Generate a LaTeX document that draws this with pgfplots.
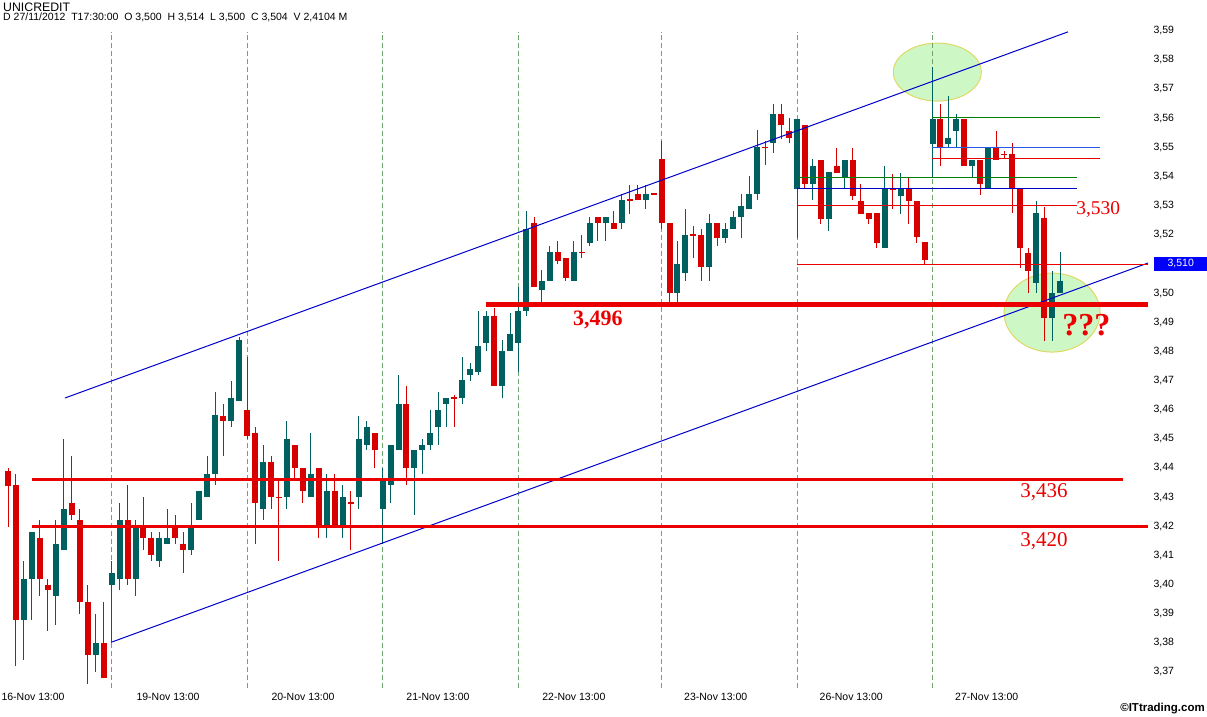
\documentclass[border=0pt]{standalone}
\usepackage{pgfplots}
\pgfplotsset{compat=1.18}
\usepackage{pgfplotstable}
\usepackage{fontspec}
\setmainfont{Liberation Sans}
\newfontfamily\tnr{Liberation Serif}
\definecolor{cteal}{RGB}{0,96,96}
\definecolor{cred}{RGB}{215,0,0}
\definecolor{lred}{RGB}{235,0,0}
\definecolor{sepgreen}{RGB}{110,165,110}
\definecolor{lvlgreen}{RGB}{0,128,0}
\definecolor{lvlblue}{RGB}{40,90,230}
\definecolor{chblue}{RGB}{0,0,205}
\definecolor{ellfill}{RGB}{205,248,198}
\definecolor{elldraw}{RGB}{225,215,100}

\pgfplotstableread{
i O H L C
2 3.388 3.408 3.374 3.402
3 3.402 3.418 3.388 3.418
6 3.396 3.422 3.386 3.414
7 3.412 3.450 3.412 3.426
11 3.376 3.390 3.370 3.380
13 3.400 3.408 3.380 3.404
14 3.402 3.428 3.398 3.422
16 3.402 3.422 3.396 3.420
19 3.408 3.418 3.406 3.416
20 3.414 3.426 3.414 3.416
23 3.412 3.428 3.410 3.420
24 3.422 3.432 3.422 3.432
25 3.430 3.444 3.430 3.438
26 3.438 3.466 3.434 3.458
28 3.456 3.470 3.454 3.464
29 3.463 3.485 3.463 3.484
32 3.426 3.448 3.422 3.442
35 3.430 3.456 3.426 3.450
38 3.430 3.452 3.430 3.438
40 3.420 3.438 3.416 3.432
42 3.420 3.434 3.416 3.430
44 3.430 3.458 3.426 3.450
45 3.448 3.456 3.446 3.454
47 3.426 3.440 3.414 3.436
48 3.434 3.448 3.428 3.448
49 3.446 3.472 3.446 3.462
51 3.440 3.446 3.424 3.446
52 3.446 3.450 3.438 3.448
53 3.448 3.460 3.446 3.452
54 3.454 3.466 3.448 3.460
55 3.462 3.464 3.454 3.464
57 3.464 3.478 3.462 3.470
58 3.472 3.476 3.470 3.474
59 3.473 3.494 3.472 3.482
60 3.483 3.494 3.480 3.492
62 3.468 3.484 3.464 3.480
63 3.480 3.493 3.480 3.486
64 3.483 3.502 3.473 3.494
65 3.494 3.528 3.492 3.522
67 3.501 3.508 3.496 3.504
68 3.504 3.516 3.504 3.514
71 3.504 3.518 3.504 3.514
73 3.517 3.526 3.516 3.524
75 3.524 3.526 3.518 3.526
77 3.524 3.534 3.522 3.532
80 3.532 3.537 3.529 3.534
84 3.500 3.518 3.497 3.510
85 3.507 3.529 3.504 3.520
88 3.509 3.527 3.504 3.524
90 3.519 3.524 3.517 3.522
91 3.522 3.528 3.522 3.526
92 3.526 3.534 3.519 3.530
93 3.529 3.540 3.529 3.534
94 3.534 3.556 3.532 3.550
96 3.5515 3.565 3.548 3.5614
99 3.5358 3.5597 3.519 3.5597
101 3.5375 3.546 3.532 3.5436
103 3.5255 3.5416 3.5214 3.5416
105 3.5395 3.5457 3.5358 3.5457
110 3.5156 3.5436 3.5156 3.5358
112 3.5334 3.5412 3.5272 3.5358
116 3.5512 3.5775 3.5395 3.5597
118 3.5512 3.5676 3.5497 3.5532
119 3.5556 3.5614 3.5497 3.5597
121 3.5436 3.5457 3.5395 3.5457
123 3.5358 3.5497 3.5358 3.5497
129 3.5036 3.5317 3.500 3.5276
131 3.4916 3.5077 3.4837 3.500
132 3.500 3.514 3.500 3.504
}\bull

\pgfplotstableread{
i O H L C
0 3.4388 3.4399 3.4197 3.4337
1 3.434 3.438 3.372 3.388
4 3.416 3.422 3.396 3.402
5 3.400 3.402 3.384 3.398
8 3.428 3.444 3.422 3.424
9 3.422 3.426 3.390 3.394
10 3.394 3.400 3.366 3.376
12 3.380 3.394 3.368 3.368
15 3.422 3.434 3.400 3.402
17 3.420 3.430 3.412 3.416
18 3.416 3.418 3.408 3.410
21 3.420 3.424 3.414 3.416
22 3.414 3.418 3.404 3.412
27 3.458 3.462 3.444 3.456
30 3.460 3.478 3.450 3.451
31 3.452 3.454 3.414 3.428
33 3.442 3.444 3.426 3.430
34 3.4302 3.436 3.408 3.4298
36 3.448 3.448 3.436 3.440
37 3.440 3.440 3.428 3.432
39 3.440 3.440 3.416 3.420
41 3.432 3.438 3.420 3.420
43 3.4282 3.432 3.412 3.4278
46 3.452 3.452 3.440 3.446
50 3.462 3.468 3.434 3.440
56 3.4642 3.465 3.454 3.4638
61 3.492 3.495 3.468 3.468
66 3.524 3.526 3.502 3.502
69 3.514 3.518 3.510 3.511
70 3.512 3.512 3.504 3.505
72 3.5142 3.520 3.512 3.5138
74 3.526 3.526 3.518 3.524
76 3.524 3.528 3.522 3.522
78 3.5322 3.537 3.527 3.5318
79 3.534 3.537 3.532 3.532
81 3.5342 3.5342 3.5338 3.5338
82 3.546 3.552 3.522 3.524
83 3.524 3.524 3.497 3.500
86 3.5202 3.523 3.512 3.5198
87 3.520 3.522 3.504 3.509
89 3.524 3.524 3.516 3.519
95 3.5502 3.552 3.544 3.5498
97 3.5614 3.565 3.553 3.5577
98 3.5556 3.560 3.5515 3.5532
100 3.5577 3.5577 3.536 3.5375
102 3.5457 3.5457 3.5238 3.5255
104 3.5436 3.5497 3.5412 3.5412
106 3.5457 3.5497 3.532 3.5334
107 3.5317 3.5375 3.5272 3.5272
108 3.5276 3.5276 3.5238 3.5255
109 3.5276 3.5276 3.5156 3.5173
111 3.5360 3.541 3.529 3.5356
113 3.5358 3.5395 3.5238 3.5317
114 3.5317 3.5317 3.5173 3.5193
115 3.5176 3.5176 3.510 3.5114
117 3.5597 3.565 3.5436 3.5497
120 3.5597 3.5597 3.5436 3.5436
122 3.5457 3.5457 3.5337 3.5375
124 3.5497 3.5556 3.5457 3.5457
125 3.5478 3.5488 3.5464 3.5474
126 3.5478 3.5515 3.5276 3.5358
127 3.5358 3.5358 3.5087 3.5156
128 3.5138 3.5156 3.500 3.5077
130 3.5258 3.5296 3.4837 3.4916
}\bear

\begin{document}
\begin{tikzpicture}
\path[use as bounding box] (0pt,-28pt) rectangle (1207pt,688pt);
\begin{axis}[
  at={(0pt,0pt)}, anchor=south west,
  scale only axis, width=1148pt, height=688pt,
  xmin=-1.004, xmax=143.04, ymin=3.36451, ymax=3.60053,
  clip=false,
  axis line style={draw=none}, tick style={draw=none},
  major tick length=0pt,
  scaled y ticks=false,
  ytick={3.37,3.38,3.39,3.40,3.41,3.42,3.43,3.44,3.45,3.46,3.47,3.48,3.49,3.50,3.52,3.53,3.54,3.55,3.56,3.57,3.58,3.59},
  yticklabel pos=right,
  yticklabel style={font=\fontsize{10.5}{12}\selectfont, xshift=2pt,
    /pgf/number format/.cd, fixed, fixed zerofill, precision=2, use comma, assume math mode=true},
  xtick={3.14,20.08,37.02,53.95,71.0,88.8,105.8,122.8},
  xticklabels={16-Nov 13:00,19-Nov 13:00,20-Nov 13:00,21-Nov 13:00,22-Nov 13:00,23-Nov 13:00,26-Nov 13:00,27-Nov 13:00},
  xticklabel style={font=\fontsize{10.5}{12}\selectfont, yshift=-2pt},
]
% highlight ellipses
\draw[fill=ellfill, draw=elldraw, line width=1pt] (axis cs:116.6,3.5758) ellipse [x radius=44pt, y radius=29pt];
\draw[fill=ellfill, draw=elldraw, line width=1pt] (axis cs:131.0,3.4933) ellipse [x radius=48pt, y radius=39.5pt];
% session separators
\pgfplotsinvokeforeach{13,30,47,64,82,99,116}{
  \addplot[forget plot, sepgreen, line width=1pt, dash pattern=on 5pt off 3pt] coordinates {(#1,3.36451) (#1,3.5896)};
}
% candles: wicks
\addplot[forget plot, draw=none, mark=none, error bars/.cd, y dir=both, y explicit, error mark=none,
  error bar style={draw=cteal, line width=1pt, solid}]
  table[x=i, y expr={(\thisrow{H}+\thisrow{L})/2}, y error expr={(\thisrow{H}-\thisrow{L})/2}] {\bull};
\addplot[forget plot, draw=none, mark=none, error bars/.cd, y dir=both, y explicit, error mark=none,
  error bar style={draw=cred, line width=1pt, solid}]
  table[x=i, y expr={(\thisrow{H}+\thisrow{L})/2}, y error expr={(\thisrow{H}-\thisrow{L})/2}] {\bear};
% candles: bodies
\addplot[forget plot, draw=none, mark=none, error bars/.cd, y dir=both, y explicit, error mark=none,
  error bar style={draw=cteal, line width=6pt, solid}]
  table[x=i, y expr={(\thisrow{O}+\thisrow{C})/2}, y error expr={max(abs(\thisrow{C}-\thisrow{O})/2,0.00017)}] {\bull};
\addplot[forget plot, draw=none, mark=none, error bars/.cd, y dir=both, y explicit, error mark=none,
  error bar style={draw=cred, line width=6pt, solid}]
  table[x=i, y expr={(\thisrow{O}+\thisrow{C})/2}, y error expr={max(abs(\thisrow{C}-\thisrow{O})/2,0.00017)}] {\bear};
% channel lines
\addplot[forget plot, chblue, line width=1pt] coordinates {(7.15,3.4640) (133.0,3.5896)};
\addplot[forget plot, chblue, line width=1pt] coordinates {(13.05,3.3803) (143.04,3.5103)};
% level lines
\addplot[forget plot, lvlgreen, line width=1pt] coordinates {(115.9,3.5601) (137.0,3.5601)};
\addplot[forget plot, lvlblue, line width=1pt] coordinates {(115.9,3.5501) (137.0,3.5501)};
\addplot[forget plot, lred, line width=1pt] coordinates {(115.9,3.5460) (137.0,3.5460)};
\addplot[forget plot, lvlgreen, line width=1pt] coordinates {(99.0,3.5398) (134.1,3.5398)};
\addplot[forget plot, chblue, line width=1pt] coordinates {(99.0,3.5360) (134.1,3.5360)};
\addplot[forget plot, lred, line width=1pt] coordinates {(99.0,3.5299) (134.1,3.5299)};
\addplot[forget plot, lred, line width=1pt] coordinates {(99.0,3.5098) (143.04,3.5098)};
% thick support lines
\addplot[forget plot, lred, line width=5pt] coordinates {(59.98,3.496) (143.04,3.496)};
\addplot[forget plot, lred, line width=3pt] coordinates {(3.01,3.436) (139.9,3.436)};
\addplot[forget plot, lred, line width=3pt] coordinates {(3.01,3.420) (143.04,3.420)};
% labels
\node[text=lred, font=\tnr\bfseries\fontsize{22}{24}\selectfont] at (axis cs:74.0,3.4908) {3,496};
\node[text=lred, font=\tnr\fontsize{19.5}{22}\selectfont] at (axis cs:136.8,3.5288) {3,530};
\node[text=lred, font=\tnr\fontsize{21}{24}\selectfont] at (axis cs:130.0,3.4317) {3,436};
\node[text=lred, font=\tnr\fontsize{21}{24}\selectfont] at (axis cs:130.0,3.4149) {3,420};
\node[text=lred, font=\tnr\bfseries\fontsize{32}{34}\selectfont] at (axis cs:135.3,3.4890) {???};
\node[anchor=west, fill=blue, text=white, inner sep=0pt, minimum width=53pt, minimum height=14pt,
  font=\fontsize{10.5}{12}\selectfont, xshift=6pt] at (axis cs:143.04,3.510) {3,510};
\end{axis}
\node[anchor=north west, inner sep=0pt, font=\fontsize{12.3}{14}\selectfont] at (3pt,685pt) {UNICREDIT};
\node[anchor=north west, inner sep=0pt, font=\fontsize{10.5}{12}\selectfont] at (3pt,675pt)
  {D 27/11/2012\ \ T17:30:00\ \ O 3,500\ \ H 3,514\ \ L 3,500\ \ C 3,504\ \ V 2,4104 M};
\node[anchor=south east, inner sep=0pt, font=\bfseries\fontsize{11.5}{13}\selectfont] at (1205pt,-26pt) {\textcopyright ITtrading.com};
\end{tikzpicture}
\end{document}
